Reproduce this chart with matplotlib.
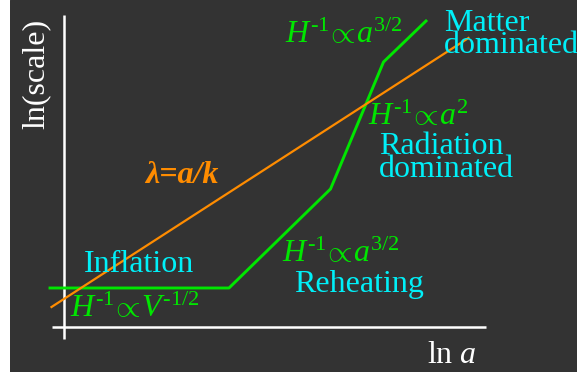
"""Horizon scale vs. comoving wavelength sketch: ln(scale) against ln a."""

import matplotlib.pyplot as plt

BG = "#333333"
GREEN = "#00E600"
CYAN = "#00F0F8"
ORANGE = "#FF8C00"
WHITE = "#FFFFFF"

# Hubble radius H^-1 (piecewise: inflation, reheating, radiation, matter)
hubble_ln_a = [-1.4, 16.5, 26.65, 31.95, 36.2]
hubble_ln_scale = [3.9, 3.9, 13.8, 26.5, 30.6]

# Physical wavelength of a mode, lambda = a/k
wave_ln_a = [-1.25, 40.45]
wave_ln_scale = [2.0, 28.9]

plt.rcParams["mathtext.fontset"] = "custom"
plt.rcParams["mathtext.rm"] = "Liberation Serif"
plt.rcParams["mathtext.it"] = "Liberation Serif:italic"
plt.rcParams["mathtext.bf"] = "Liberation Serif:bold"

SERIF = "Liberation Serif"
FS = 23


def main() -> None:
    fig = plt.figure(figsize=(5.77, 3.76), dpi=100, facecolor="white")
    ax = fig.add_axes([10 / 577, 4 / 376, 567 / 577, 372 / 376])
    ax.set_facecolor(BG)
    ax.set_xlim(-5.4, 51.3)
    ax.set_ylim(-4.5, 32.7)
    ax.axis("off")
    ax.add_patch(plt.Rectangle((-5.4, -4.5), 56.7, 37.2, color=BG, zorder=0))

    # axes drawn by hand, crossing slightly past the origin
    ax.plot([0.04, 0.04], [-1.2, 31.2], color=WHITE, lw=1.8, solid_capstyle="butt")
    ax.plot([-1.25, 42.2], [0.03, 0.03], color=WHITE, lw=1.8, solid_capstyle="butt")

    ax.plot(hubble_ln_a, hubble_ln_scale, color=GREEN, lw=2.1)
    ax.plot(wave_ln_a, wave_ln_scale, color=ORANGE, lw=1.6)

    ax.text(-2.8, 25.3, "ln(scale)", rotation=90, ha="center", va="center",
            color=WHITE, fontsize=FS, family=SERIF)
    ax.text(36.3, -3.6, r"ln $\mathit{a}$", ha="left", va="baseline",
            color=WHITE, fontsize=FS, family=SERIF)

    cyan_labels = [
        ("Matter", 38.0, 29.6),
        ("dominated", 38.0, 27.4),
        ("Radiation", 31.5, 17.3),
        ("dominated", 31.5, 15.0),
        ("Inflation", 2.0, 5.5),
        ("Reheating", 23.0, 3.5),
    ]
    for txt, x, y in cyan_labels:
        ax.text(x, y, txt, ha="left", va="baseline", color=CYAN,
                fontsize=FS, family=SERIF)

    green_labels = [
        (r"$H^{\mathit{‐1}}\!\propto\! a^{\mathit{3/2}}$", 22.1, 28.4),
        (r"$H^{\mathit{‐1}}\!\propto\! a^{2}$", 30.4, 20.2),
        (r"$H^{\mathit{‐1}}\!\propto\! a^{\mathit{3/2}}$", 21.8, 6.5),
        (r"$H^{\mathit{‐1}}\!\propto\! V^{\mathit{‐1/2}}$", 0.6, 1.0),
    ]
    for txt, x, y in green_labels:
        ax.text(x, y, txt, ha="left", va="baseline", color=GREEN, fontsize=FS)

    ax.text(8.1, 14.4, "λ=a/k", ha="left", va="baseline", color=ORANGE,
            fontsize=FS, family=SERIF, weight="bold", style="italic")

    fig.savefig("out.png", dpi=100, facecolor="white")
    plt.close(fig)


if __name__ == "__main__":
    main()
